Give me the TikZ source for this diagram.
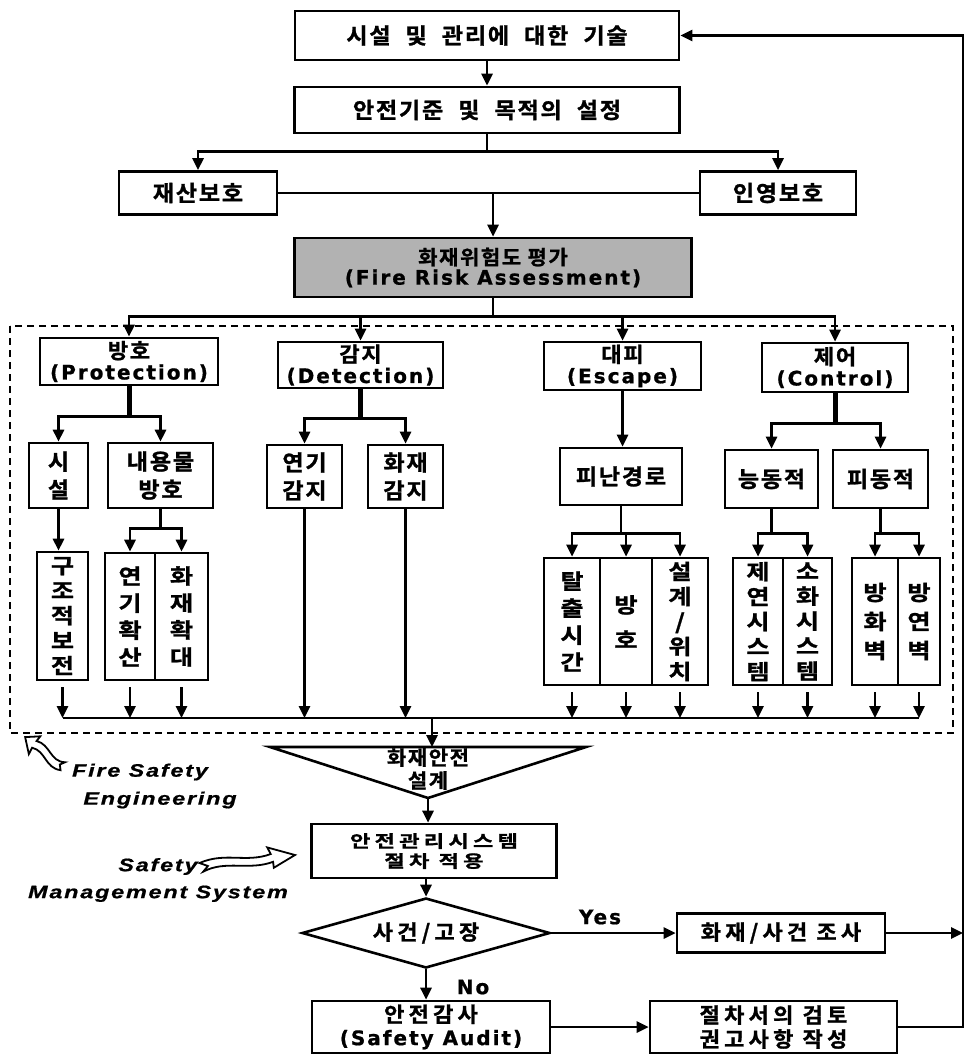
\documentclass[tikz,border=0pt]{standalone}
\usepackage{fontspec}
\newfontfamily\krfont{Noto Sans CJK KR Bold}[FakeStretch=1.05,LetterSpace=8,FakeBold=1.2]
\newfontfamily\krwide{Noto Sans CJK KR Bold}[FakeStretch=1.05,LetterSpace=20,FakeBold=1.2]
\newfontfamily\krflat{Noto Sans CJK KR Bold}[FakeStretch=1.3,LetterSpace=25,FakeBold=1.2]
\newfontfamily\krstackfont{Noto Sans CJK KR Bold}[FakeStretch=1.2,FakeBold=1.2]
\newfontfamily\enfont{DejaVu Sans Bold}[LetterSpace=10,FakeBold=0.8]
\newfontfamily\itfont{Liberation Sans Bold Italic}[FakeStretch=1.3,LetterSpace=10,FakeBold=0.8]
\usetikzlibrary{arrows.meta,shapes.geometric}
\newcommand\krtxt{\krfont\fontsize{22pt}{28pt}\selectfont}
\newcommand\krhead{\krfont\fontsize{21pt}{21pt}\selectfont}
\newcommand\krstack{\krstackfont\fontsize{21pt}{25pt}\selectfont}
\newcommand\entxt{\enfont\fontsize{20pt}{21pt}\selectfont}
\newcommand\captxt{\itfont\fontsize{18pt}{27pt}\selectfont}
\newcommand\gap{\hspace{15pt}}

\begin{document}
\begin{tikzpicture}[x=1pt,y=-1pt,
  box/.style 2 args={draw,line width=2.6pt,minimum width=#1,minimum height=#2,inner sep=0pt,align=center,font=\krtxt},
  stackbox/.style 2 args={box={#1}{#2},font=\krstack},
  link/.style={line width=2.6pt},
  arr/.style={link,-{Triangle[length=12pt,width=11pt]}},
  stem/.style={line width=5pt},
  wavyarrow/.pic={
    \draw[line width=1.8pt,fill=white]
      (0,-4) .. controls (20,-12) and (35,2) .. (54,-4)
      -- (52,-11) -- (72,0) -- (55,10) -- (55,4)
      .. controls (36,10) and (20,-4) .. (2,5) -- (6,0) -- cycle;
  }]
\fill[white] (0,0) rectangle (966,1058);
\useasboundingbox (0,0) rectangle (966,1058);

% top part
\node[box={384pt}{49pt}] (desc) at (487,35.5) {시설\gap 및\gap 관리에\gap 대한\gap 기술};
\node[box={385pt}{46pt}] (goal) at (487,110) {안전기준\gap 및\gap 목적의\gap 설정};
\node[box={158pt}{43pt}] (prop) at (198,193) {재산보호};
\node[box={156pt}{43pt}] (life) at (778,193) {인영보호};
\node[box={397pt}{59pt},fill=black!30,font=\krfont\fontsize{20pt}{20pt}\selectfont] (fra) at (493,267.5)
  {화재위험도 평가\\{\entxt (Fire Risk Assessment)}};
\draw[arr] (desc.south) -- (goal.north);
\draw[link] (goal.south) -- ++(0,17) coordinate (gj);
\draw[arr] (gj) -| (prop.north);
\draw[arr] (gj) -| (life.north);
\draw[link] (prop.east) -- (life.west);
\draw[arr] (prop.east -| fra.north) -- (fra.north);

% fire safety engineering block
\draw[line width=2pt,dash pattern=on 7pt off 5pt] (10,326) rectangle (953,733);
\node[box={178pt}{47pt},font=\krhead] (prot) at (129,361.5) {방호\\{\entxt (Protection)}};
\node[box={165pt}{46pt},font=\krhead] (detc) at (360.5,365) {감지\\{\entxt (Detection)}};
\node[box={157pt}{48pt},font=\krhead] (escp) at (622.5,366) {대피\\{\entxt (Escape)}};
\node[box={146pt}{49pt},font=\krhead] (ctrl) at (835,367.5) {제어\\{\entxt (Control)}};
\draw[link] (fra.south) -- ++(0,18) coordinate (hub);
\foreach \n in {prot,detc,escp,ctrl}
  \draw[arr] (hub) -| (\n.north);

\node[box={59pt}{65pt}] (fac) at (58.5,475.5) {시\\설};
\node[box={105pt}{65pt}] (cont) at (160.5,475.5) {내용물\\방호};
\node[box={75pt}{63pt}] (smk) at (304.5,476.5) {연기\\감지};
\node[box={75pt}{63pt}] (fir) at (405.5,476.5) {화재\\감지};
\node[box={122pt}{57pt}] (route) at (621,476.5) {피난경로};
\node[box={93pt}{58pt}] (act) at (771.5,479) {능동적};
\node[box={95pt}{58pt}] (pas) at (880.5,479) {피동적};
\draw[stem] (prot.south) -- ++(0,30) coordinate (pj);
\draw[arr] (pj) -| (fac.north);
\draw[arr] (pj) -| (cont.north);
\draw[stem] (detc.south) -- ++(0,29) coordinate (dj);
\draw[arr] (dj) -| (smk.north);
\draw[arr] (dj) -| (fir.north);
\draw[arr] (escp.south) -- (escp.south |- route.north);
\draw[stem] (ctrl.south) -- ++(0,30) coordinate (kj);
\draw[arr] (kj) -| (act.north);
\draw[arr] (kj) -| (pas.north);

\node[stackbox={51pt}{128pt}] (struct) at (62.5,616) {구\\조\\적\\보\\전};
\node[stackbox={50pt}{127pt}] (spread) at (130,616.5) {연\\[2pt]기\\[2pt]확\\[2pt]산};
\node[stackbox={53pt}{127pt}] (grow) at (181.5,616.5) {화\\[2pt]재\\[2pt]확\\[2pt]대};
\node[stackbox={56pt}{127pt}] (egress) at (572,621.5) {탈\\[2pt]출\\[2pt]시\\[2pt]간};
\node[stackbox={52pt}{127pt}] (shelter) at (626,621.5) {방\\[10pt]호};
\node[stackbox={56pt}{127pt}] (design) at (680,621.5) {설\\계\\/\\위\\치};
\node[stackbox={50pt}{127pt}] (smoke) at (758,621.5) {제\\연\\시\\스\\템};
\node[stackbox={49pt}{127pt}] (supp) at (807.5,621.5) {소\\화\\시\\스\\템};
\node[stackbox={46pt}{127pt}] (fwall) at (875,621.5) {방\\[4pt]화\\[4pt]벽};
\node[stackbox={42pt}{127pt}] (swall) at (919,621.5) {방\\[4pt]연\\[4pt]벽};
\draw[arr] (fac.south) -- (fac.south |- struct.north);
\draw[link] (cont.south) -- ++(0,19) coordinate (cj);
\draw[arr] (cj) -| (spread.north);
\draw[arr] (cj) -| (grow.north);
\draw[link] (route.south) -- ++(0,27) coordinate (rj);
\foreach \n in {egress,shelter,design}
  \draw[arr] (rj) -| (\n.north);
\draw[link] (act.south) -- ++(0,24) coordinate (aj);
\draw[arr] (aj) -| (smoke.north);
\draw[arr] (aj) -| (supp.north);
\draw[link] (pas.south) -- ++(0,24) coordinate (sj);
\draw[arr] (sj) -| (fwall.north);
\draw[arr] (sj) -| (swall.north);

\coordinate (bus) at (432,718);
\foreach \n in {struct,spread,grow,egress,shelter,design,smoke,supp,fwall,swall}
  \draw[arr] ([yshift=-6pt]\n.south) -- (\n.south |- bus);
\draw[arr] (smk.south) -- (smk.south |- bus);
\draw[arr] (fir.south) -- (fir.south |- bus);
\draw[link] (struct.south |- bus) -- (swall.south |- bus);

% design and management
\coordinate (tl) at (270,747);
\coordinate (tr) at (586,747);
\coordinate (tip) at (428,798);
\draw[link,line join=miter] (tl) -- (tr) -- (tip) -- cycle;
\node[font=\krfont\fontsize{20pt}{23pt}\selectfont,align=center] (fsd) at (428,769) {화재안전\\설계};
\draw[arr] (bus) -- (bus |- tl);
\node[box={245pt}{54pt},font=\krflat\fontsize{17pt}{20pt}\selectfont] (sms) at (434,851) {안전관리시스템\\절차 적용};
\node[draw,diamond,aspect=3.54,line width=2.6pt,minimum width=248pt,minimum height=70pt,inner sep=0pt,font=\krwide\fontsize{21pt}{24pt}\selectfont] (inc) at (426,933) {사건/고장};
\node[box={208pt}{39pt},font=\krwide\fontsize{21pt}{24pt}\selectfont] (inv) at (781,933) {화재/사건 조사};
\node[box={238pt}{52pt},font=\krwide\fontsize{21pt}{23pt}\selectfont] (audit) at (431,1027)
  {안전감사\\{\entxt (Safety Audit)}};
\node[box={247pt}{52pt},font=\krwide\fontsize{21pt}{24pt}\selectfont] (rev) at (773.5,1027) {절차서의 검토\\권고사항 작성};
\node[font=\entxt] (yes) at (600,917) {Yes};
\node[font=\entxt] (no) at (473,987) {No};
\draw[arr] (tip) -- (tip |- sms.north);
\draw[arr] (sms.south -| inc.north) -- (inc.north);
\draw[arr] (inc.east) -- (inv.west);
\draw[arr] (inc.south) -- (inc.south |- audit.north);
\draw[arr] (audit.east) -- (rev.west);
\coordinate (fbk) at (963,35.5);
\draw[arr] (inv.east) -- (inv.east -| fbk);
\draw[arr] (rev.east) -| (fbk) -- (desc.east);

% side captions
\node[font=\captxt] (fse1) at (140,772) {Fire Safety};
\node[font=\captxt] (fse2) at (160,800) {Engineering};
\node[font=\captxt,align=center] (sm) at (158,880) {Safety\\Management System};
\pic[rotate=141.7,xscale=0.67] at (63,767) {wavyarrow};
\pic[rotate=7.2,xscale=1.33] at (200,867) {wavyarrow};
\end{tikzpicture}
\end{document}
